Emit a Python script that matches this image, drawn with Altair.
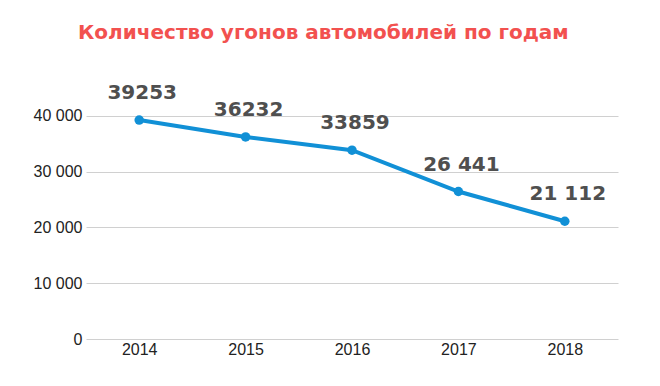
import altair as alt
import pandas as pd

years = ["2014", "2015", "2016", "2017", "2018"]
thefts = [39253, 36232, 33859, 26441, 21112]
value_labels = ["39253", "36232", "33859", "26 441", "21 112"]
y_ticks = [0, 10000, 20000, 30000, 40000]

df = pd.DataFrame({"year": years, "thefts": thefts, "label": value_labels})

x_enc = alt.X("year:N", sort=years,
              scale=alt.Scale(paddingOuter=0.5, paddingInner=0),
              axis=alt.Axis(title=None, labelAngle=0, domain=False, ticks=False, grid=False,
                            labelFont="Liberation Sans", labelFontSize=16,
                            labelColor="#222222", labelPadding=2))
y_enc = alt.Y("thefts:Q", scale=alt.Scale(domain=[0, 45000], nice=False),
              axis=alt.Axis(title=None, values=y_ticks, domain=False, ticks=False,
                            labelExpr="replace(format(datum.value, ',d'), ',', ' ')",
                            labelFont="Liberation Sans", labelFontSize=16,
                            labelColor="#222222", labelPadding=4,
                            gridColor="#d0d0d0", gridWidth=1))

base = alt.Chart(df).encode(x=x_enc, y=y_enc)

line = base.mark_line(color="#1190d6", strokeWidth=4)
points = base.mark_circle(color="#1190d6", size=90, opacity=1)
labels = base.mark_text(font="DejaVu Sans", fontWeight="bold", fontSize=20,
                        color="#4f4f4f", dy=-27, dx=3, baseline="middle").encode(text="label:N")

chart = (line + points + labels).properties(
    width=532, height=251,
    background="white",
    padding={"left": 78, "top": 80, "right": 20, "bottom": 20},
    autosize=alt.AutoSizeParams(type="none"),
    title=alt.TitleParams("Количество угонов автомобилей по годам",
                          anchor="start", frame="group", font="DejaVu Sans", fontWeight="bold",
                          fontSize=20, color="#f2514f", dx=-8, offset=40),
).configure_view(stroke=None, strokeWidth=0)

chart.save("out.html", embed_options={"renderer": "svg", "actions": False})
